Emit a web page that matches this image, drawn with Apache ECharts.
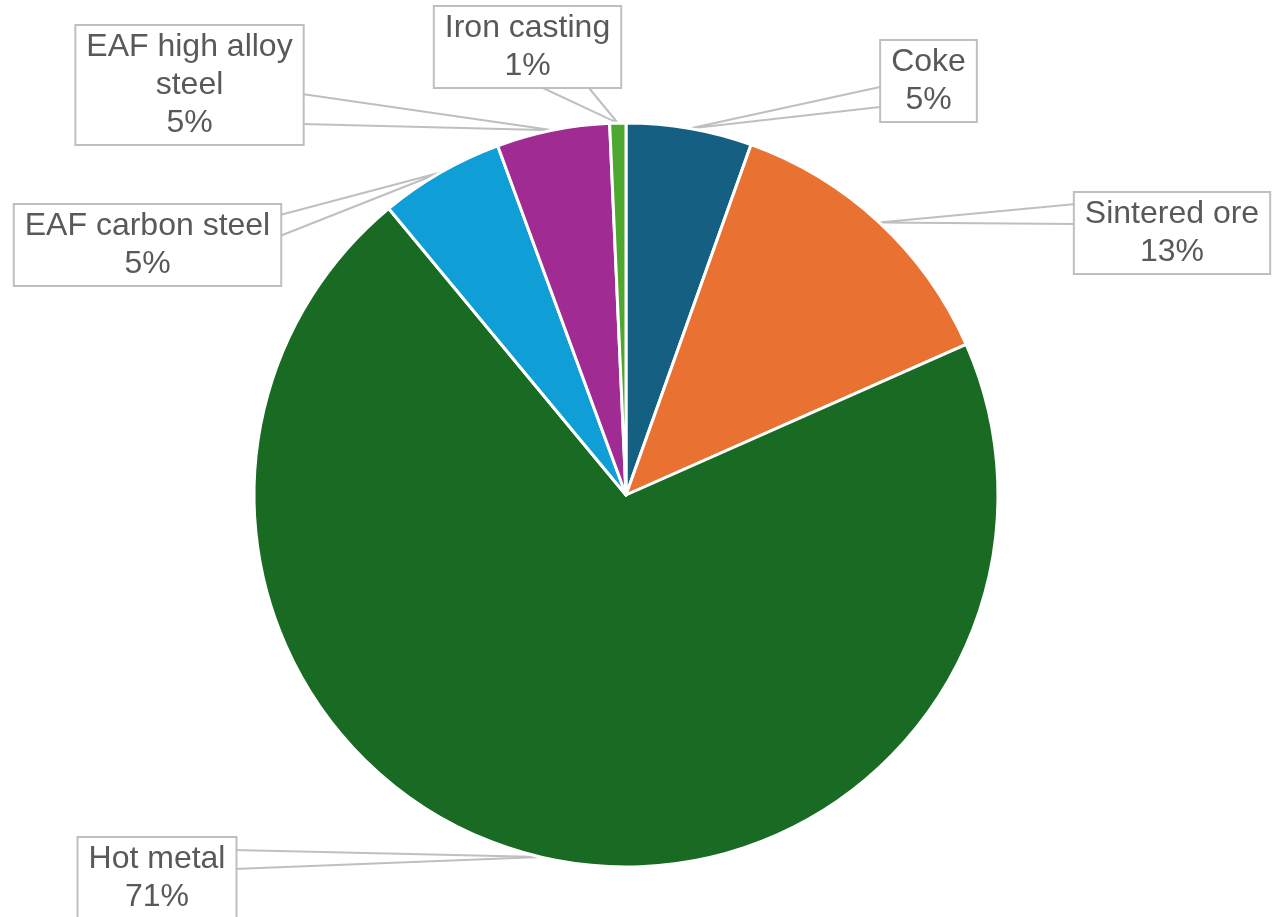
<!DOCTYPE html>
<html>
<head>
<meta charset="utf-8">
<script src="https://cdn.jsdelivr.net/npm/echarts@6/dist/echarts.min.js"></script>
<style>
html,body{margin:0;padding:0;background:#fff;}
#chart{width:1281px;height:917px;}
</style>
</head>
<body>
<div id="chart"></div>
<script>
// ---- data ----
const categories = ['Coke', 'Sintered ore', 'Hot metal', 'EAF carbon steel', 'EAF high alloy steel', 'Iron casting'];
const shares = [5.45, 12.9, 70.55, 5.4, 4.9, 0.7];
const sliceColors = ['#156082', '#E97132', '#196B24', '#0F9ED5', '#A02B93', '#4EA72E'];

// ---- label callout layout (text centre, wedge base points) ----
const calloutLayout = [
  { c: [928.5, 81],  w: [[880, 87], [880, 107]] },
  { c: [1172, 233],  w: [[1076, 204], [1076, 224]] },
  { c: [157, 878],   w: [[234, 850], [234, 869]] },
  { c: [147.5, 245], w: [[280, 215], [280, 236]] },
  { c: [189.5, 85],  w: [[302, 94], [302, 124]] },
  { c: [527.5, 47],  w: [[543, 88], [589, 88]] }
];

function wrapName(name, maxChars) {
  const words = name.split(' ');
  const lines = [];
  let cur = '';
  words.forEach(w => {
    const next = cur ? cur + ' ' + w : w;
    if (next.length > maxChars && cur) { lines.push(cur); cur = w; }
    else cur = next;
  });
  if (cur) lines.push(cur);
  return lines.join('\n');
}

const chart = echarts.init(document.getElementById('chart'), null, { renderer: 'canvas' });

const data = categories.map((name, i) => ({
  name: name, value: shares[i], itemStyle: { color: sliceColors[i] }
}));

chart.setOption({
  animation: false,
  backgroundColor: '#ffffff',
  series: [{
    type: 'pie',
    center: [626, 495],
    radius: 372,
    startAngle: 90,
    clockwise: true,
    avoidLabelOverlap: false,
    itemStyle: { borderColor: '#ffffff', borderWidth: 3 },
    emphasis: { disabled: true },
    label: {
      show: true,
      position: 'outside',
      formatter: p => wrapName(p.name, 16) + '\n' + Math.round(p.percent) + '%',
      fontFamily: 'Liberation Sans, Arial, sans-serif',
      fontSize: 32,
      lineHeight: 38,
      color: '#595959',
      align: 'center',
      backgroundColor: '#ffffff',
      borderColor: '#bfbfbf',
      borderWidth: 2,
      padding: [4, 10, 0, 10]
    },
    labelLine: {
      show: true,
      lineStyle: { color: '#bfbfbf', width: 2 }
    },
    labelLayout: function (params) {
      const cfg = calloutLayout[params.dataIndex];
      const anchor = params.labelLinePoints ? params.labelLinePoints[0] : cfg.w[0];
      return {
        x: cfg.c[0],
        y: cfg.c[1],
        align: 'center',
        verticalAlign: 'middle',
        labelLinePoints: [cfg.w[0], anchor, cfg.w[1]]
      };
    },
    data: data
  }]
});
</script>
</body>
</html>
